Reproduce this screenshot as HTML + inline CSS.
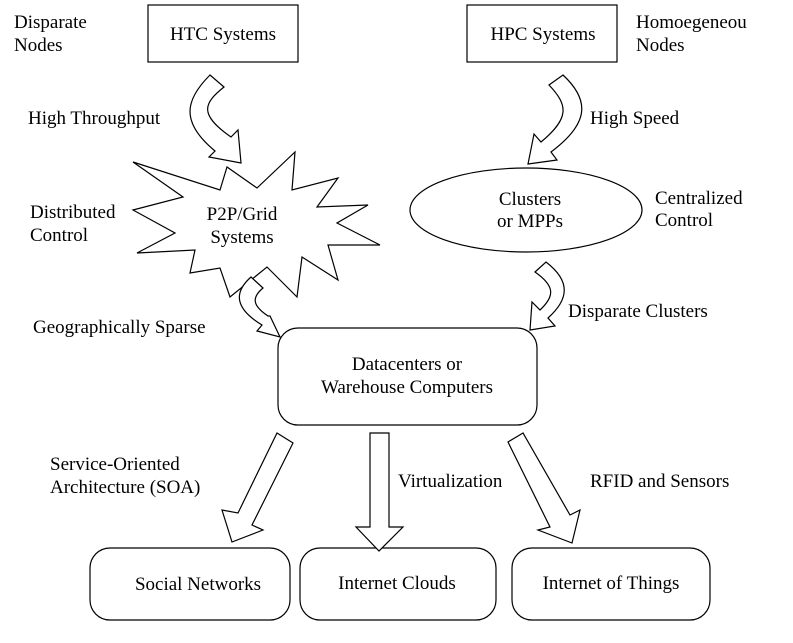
<!DOCTYPE html>
<html><head><meta charset="utf-8"><style>
html,body{margin:0;padding:0;background:#fff;}
svg{display:block;}
text{font-family:"Liberation Serif",serif;font-size:19px;fill:#000;}
</style></head><body>
<svg width="793" height="643" viewBox="0 0 793 643" xmlns="http://www.w3.org/2000/svg">
<g fill="#fff" stroke="#000" stroke-width="1.2">
<rect x="148" y="5" width="150" height="57"/>
<rect x="467" y="5" width="150" height="57"/>
<ellipse cx="526" cy="210" rx="116" ry="42"/>
<polygon points="133,162 220,190 227,167 257,188 295,152 292,190 338,178 317,207 368,205 337,223 380,245 328,245 338,280 302,257 297,297 267,267 230,297 220,268 190,273 195,250 137,253 175,233 133,210 183,197"/>
<rect x="278" y="328" width="259" height="97" rx="20"/>
<rect x="90" y="548" width="200" height="72" rx="20"/>
<rect x="300" y="548" width="196" height="72" rx="20"/>
<rect x="512" y="548" width="198" height="72" rx="20"/>
</g>
<g fill="#fff" stroke="#000" stroke-width="1.2" stroke-linejoin="miter">
<path d="M210,75 C185,100 180,122 215,151 L209,157 L241,163 L238,130 L231,137 C198,114 204,103 224,87 Z"/>
<path d="M563,75 C592,102 587,125 551,152 L557,160 L528,164 L534,134 L541,142 C570,118 568,105 549,85 Z"/>
<path d="M546,262 C572,282 568,300 548,318 L555,326 L530,330 L532,302 L540,310 C555,296 555,286 535,272 Z"/>
<path d="M251,277 L263,288 C251,298 253,306 268,316 L270,316 L280,337 L257,331 L262,325 C234,308 234,292 251,277 Z"/>
<polygon points="277,433 293,443 252,525 263,530 232,542 222,510 238,513"/>
<polygon points="370,433 389,433 389,527 403,527 379,551 356,527 370,527"/>
<polygon points="523,433 508,442 550,527 538,530 572,543 580,510 570,515"/>
</g>
<text x="14" y="28">Disparate</text><text x="14" y="51">Nodes</text>
<text x="223" y="40" text-anchor="middle">HTC Systems</text>
<text x="543" y="40" text-anchor="middle">HPC Systems</text>
<text x="636" y="28">Homoegeneou</text><text x="636" y="51">Nodes</text>
<text x="28" y="124">High Throughput</text>
<text x="590" y="124">High Speed</text>
<text x="30" y="218">Distributed</text><text x="30" y="241">Control</text>
<text x="242" y="220" text-anchor="middle">P2P/Grid</text>
<text x="242" y="243" text-anchor="middle">Systems</text>
<text x="530" y="205" text-anchor="middle">Clusters</text>
<text x="530" y="227" text-anchor="middle">or MPPs</text>
<text x="655" y="204">Centralized</text><text x="655" y="226">Control</text>
<text x="33" y="333">Geographically Sparse</text>
<text x="568" y="317">Disparate Clusters</text>
<text x="407" y="370" text-anchor="middle">Datacenters or</text>
<text x="407" y="393" text-anchor="middle">Warehouse Computers</text>
<text x="50" y="470">Service-Oriented</text><text x="50" y="493">Architecture (SOA)</text>
<text x="398" y="487">Virtualization</text>
<text x="590" y="487">RFID and Sensors</text>
<text x="198" y="590" text-anchor="middle">Social Networks</text>
<text x="397" y="589" text-anchor="middle">Internet Clouds</text>
<text x="611" y="589" text-anchor="middle">Internet of Things</text>
</svg>
</body></html>
